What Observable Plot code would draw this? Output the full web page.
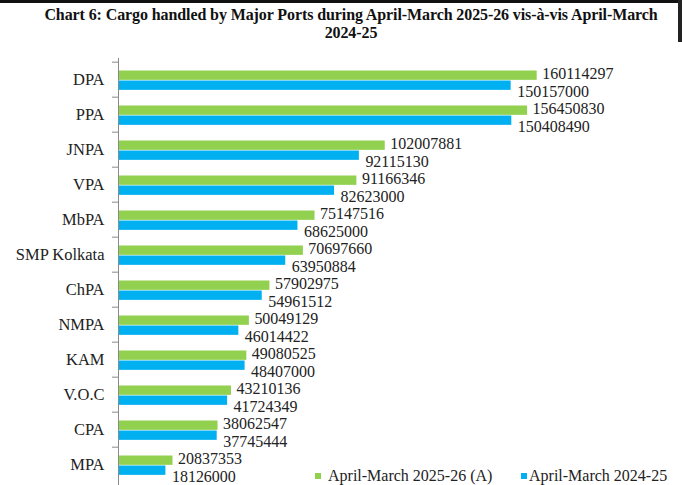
<!DOCTYPE html>
<html><head><meta charset="utf-8">
<script src="https://cdn.jsdelivr.net/npm/d3@7"></script>
<script src="https://cdn.jsdelivr.net/npm/@observablehq/plot@0.6"></script>
<style>
body{margin:0;background:#fff;width:682px;height:485px;overflow:hidden;position:relative;font-family:"Liberation Serif","Times New Roman",serif;}
#topbar{position:absolute;left:0;top:0;width:682px;height:3px;background:#111;}
#rightbar{position:absolute;right:0;top:0;width:4px;height:42px;background:#222;}
#title{position:absolute;top:6px;left:20px;right:0;text-align:center;font-weight:bold;font-size:16px;line-height:18px;color:#111;letter-spacing:-0.1px;}
#chart{position:absolute;left:0;top:48px;}
#legend{position:absolute;top:466px;left:0;width:682px;height:20px;font-size:16px;color:#222;}
.item{position:absolute;top:0;white-space:nowrap;display:flex;align-items:center;line-height:20px;}
.sw{display:inline-block;width:6px;height:6px;}
</style></head><body>
<div id="topbar"></div><div id="rightbar"></div>
<div id="title">Chart 6: Cargo handled by Major Ports during April-March 2025-26 vis-à-vis April-March<br>2024-25</div>
<div id="chart"></div>
<div id="legend"></div>
<script>
const ports = ["DPA","PPA","JNPA","VPA","MbPA","SMP Kolkata","ChPA","NMPA","KAM","V.O.C","CPA","MPA"];
const cargo2025_26 = [160114297,156450830,102007881,91166346,75147516,70697660,57902975,50049129,49080525,43210136,38062547,20837353];
const cargo2024_25 = [150157000,150408490,92115130,82623000,68625000,63950884,54961512,46014422,48407000,41724349,37745444,18126000];
const seriesNames = ["April-March 2025-26 (A)","April-March 2024-25"];
const seriesColors = ["#92D050","#00B0F0"];

const cur = ports.map((p,i)=>({port:p,value:cargo2025_26[i]}));
const prev = ports.map((p,i)=>({port:p,value:cargo2024_25[i]}));
const step = 35.65;
const plot = Plot.plot({
  width:682, height: 10 + 12*step, marginTop:10, marginBottom:0, marginLeft:118, marginRight:41,
  style:{fontFamily:"'Liberation Serif', 'Times New Roman', serif", fontSize:"16px", color:"#222", background:"transparent"},
  x:{domain:[0,200e6], axis:null},
  y:{domain:ports, padding:0, label:null, axis:null},
  marks:[
    Plot.barX(cur,{y:"port",x:"value",fill:seriesColors[0],insetTop:8.5,insetBottom:step-18.5}),
    Plot.barX(prev,{y:"port",x:"value",fill:seriesColors[1],insetTop:18.5,insetBottom:step-28.5}),
    Plot.text(cur,{y:"port",x:"value",text:d=>String(d.value),textAnchor:"start",dx:5,dy:-6,fill:"#222",fontSize:16}),
    Plot.text(prev,{y:"port",x:"value",text:d=>String(d.value),textAnchor:"start",dx:6,dy:12,fill:"#222",fontSize:16}),
    Plot.ruleX([0],{stroke:"#8a8a8a"}),
    Plot.axisY({tickSize:6, tickFormat:()=>"", dy:-step/2, stroke:"#8a8a8a", label:null}),
    Plot.axisY({tickSize:0, tickPadding:14, fontSize:16.5, fill:"#222", label:null})
  ]
});
document.getElementById("chart").appendChild(plot);

const legend = document.getElementById("legend");
const lefts = [315, 521];
const gaps = [7, 2];
seriesNames.forEach((n,i)=>{
  const it = document.createElement("div");
  it.className="item"; it.style.left = lefts[i]+"px";
  const sw = document.createElement("span"); sw.className="sw"; sw.style.background = seriesColors[i]; sw.style.marginRight = gaps[i]+"px";
  it.appendChild(sw); it.appendChild(document.createTextNode(n));
  legend.appendChild(it);
});
</script>
</body></html>
